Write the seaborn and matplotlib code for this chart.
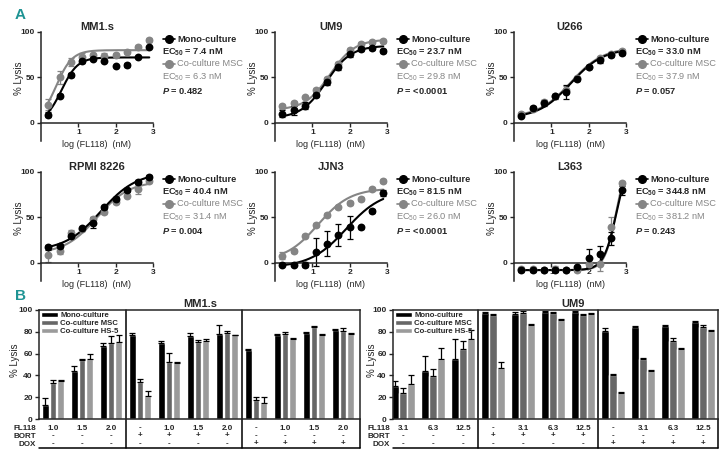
import numpy as np
import pandas as pd
import seaborn as sns
import matplotlib.pyplot as plt
import matplotlib.transforms as mtransforms
from matplotlib.lines import Line2D
from matplotlib.patches import Patch

# ---------------- Panel A data (log FL118 in nM vs % lysis) ----------------
log_fl118 = [0.2, 0.5, 0.8, 1.1, 1.4, 1.7, 2.0, 2.3, 2.6, 2.9]

mm1s_mono = [9, 30, 53, 68, 70, 68, 63, 64, 73, 84]
mm1s_mono_err = [3, 2, 2, 2, 1, 1, 1, 2, 1, 1]
mm1s_msc = [20, 50, 67, 73, 75, 74, 75, 78, 84, 91]
mm1s_msc_err = [6, 7, 4, 4, 2, 3, 2, 2, 2, 2]

um9_mono = [10, 14, 19, 31, 45, 61, 76, 81, 82, 79]
um9_mono_err = [4, 5, 4, 3, 3, 3, 3, 2, 2, 2]
um9_msc = [18, 22, 28, 36, 48, 65, 80, 87, 89, 90]
um9_msc_err = [3, 2, 2, 2, 2, 2, 2, 2, 2, 2]

u266_mono = [8, 16, 22, 29, 34, 48, 61, 69, 75, 77]
u266_mono_err = [2, 3, 3, 3, 8, 2, 2, 3, 2, 2]
u266_msc = [10, 15, 23, 30, 36, 49, 62, 71, 76, 79]
u266_msc_err = [2, 2, 2, 2, 4, 2, 2, 2, 2, 2]

rpmi_mono = [17, 19, 30, 38, 44, 61, 70, 80, 89, 95]
rpmi_mono_err = [3, 2, 2, 2, 6, 2, 2, 2, 2, 2]
rpmi_msc = [9, 13, 33, 37, 48, 56, 67, 74, 81, 90]
rpmi_msc_err = [8, 3, 3, 2, 3, 2, 2, 2, 5, 2]

jjn3_mono = [-2, -2, -2, 12, 21, 31, 39, 39, 57, 77]
jjn3_mono_err = [2, 2, 3, 15, 14, 12, 13, 2, 2, 3]
jjn3_msc = [8, 13, 30, 42, 53, 61, 66, 70, 81, 90]
jjn3_msc_err = [4, 2, 2, 2, 2, 2, 2, 2, 2, 2]

l363_mono = [-8, -8, -8, -8, -8, -5, 5, 10, 27, 80]
l363_mono_err = [2, 2, 2, 2, 2, 2, 10, 9, 7, 5]
l363_msc = [-7, -7, -8, -7, -8, -8, -1, -1, 39, 88]
l363_msc_err = [2, 2, 2, 3, 2, 2, 2, 8, 12, 2]

# fitted curve parameters: bottom, top, logEC50, hill slope
mm1s_fit = [[0, 72, 0.55, 2.0], [0, 80, 0.40, 2.0]]
um9_fit = [[5, 85, 1.37, 1.3], [14, 92, 1.47, 1.3]]
u266_fit = [[5, 82, 1.52, 1.0], [6, 83, 1.52, 1.0]]
rpmi_fit = [[13, 100, 1.60, 0.9], [10, 90, 1.50, 1.0]]
jjn3_fit = [[-5, 80, 1.91, 0.9], [2, 82, 1.15, 1.0]]
l363_fit = [[-8, 120, 2.75, 2.5], [-8, 125, 2.75, 2.7]]

cell_lines_a = ["MM1.s", "UM9", "U266", "RPMI 8226", "JJN3", "L363"]
ec50_mono = ["7.4", "23.7", "33.0", "40.4", "81.5", "344.8"]
ec50_msc = ["6.3", "29.8", "37.9", "31.4", "26.0", "381.2"]
p_values = ["0.482", "<0.0001", "0.057", "0.004", "<0.0001", "0.243"]

# ---------------- Panel B data ----------------
cultures = ["Mono-culture", "Co-culture MSC", "Co-culture HS-5"]
bort_row = ["-", "-", "-", "+", "+", "+", "+", "-", "-", "-", "-"]
dox_row = ["-", "-", "-", "-", "-", "-", "-", "+", "+", "+", "+"]

mm1s_fl118_row = ["1.0", "1.5", "2.0", "-", "1.0", "1.5", "2.0", "-", "1.0", "1.5", "2.0"]
mm1s_b_mono = [13, 44, 67, 77, 70, 76, 78, 63, 77, 79, 82]
mm1s_b_mono_err = [6, 5, 3, 1.5, 1.5, 2.5, 8, 1, 1, 1, 1]
mm1s_b_msc = [33, 54, 70, 34, 52, 71, 79, 17, 78, 84, 81]
mm1s_b_msc_err = [3, 1.5, 6, 3, 9, 1.5, 2, 3, 2, 1.5, 2.5]
mm1s_b_hs5 = [35, 55, 71, 21, 51, 72, 77, 15, 73, 77, 78]
mm1s_b_hs5_err = [1, 5, 6, 5, 1, 1.5, 0.5, 5, 1, 1, 1]

um9_fl118_row = ["3.1", "6.3", "12.5", "-", "3.1", "6.3", "12.5", "-", "3.1", "6.3", "12.5"]
um9_b_mono = [30, 44, 55, 97, 96, 98, 98, 81, 84, 85, 89]
um9_b_mono_err = [5, 14, 18, 1, 2, 1, 1, 2.5, 1.5, 1, 1]
um9_b_msc = [24, 39, 64, 95, 97, 97, 95, 40, 55, 72, 84]
um9_b_msc_err = [4, 7, 8, 1, 2, 1.5, 1, 1, 1, 2, 2]
um9_b_hs5 = [32, 55, 73, 47, 86, 91, 96, 24, 44, 64, 81]
um9_b_hs5_err = [8, 10, 9, 5, 1.5, 1, 1, 1, 1, 1.5, 1]

# ---------------- style ----------------
sns.set_style("ticks")
plt.rcParams["font.family"] = ["Liberation Sans", "DejaVu Sans"]
plt.rcParams["mathtext.fontset"] = "custom"
plt.rcParams["mathtext.rm"] = "Liberation Sans"
plt.rcParams["mathtext.bf"] = "Liberation Sans:bold"
plt.rcParams["mathtext.it"] = "Liberation Sans:italic:bold"
plt.rcParams["axes.linewidth"] = 1.1
plt.rcParams["xtick.major.width"] = 1.0
plt.rcParams["ytick.major.width"] = 1.0
plt.rcParams["xtick.major.size"] = 3
plt.rcParams["ytick.major.size"] = 3

W, H = 728, 459
fig = plt.figure(figsize=(W / 100, H / 100), dpi=100)
teal = "#1f9494"
black = "#000000"
gray = "#858585"


def fx(x):
    return x / W


def fy(y):
    return 1 - y / H


def logistic(x, p):
    bottom, top, logec, hill = p
    return bottom + (top - bottom) / (1 + 10 ** ((logec - x) * hill))


fig.text(fx(20), fy(15), "A", color=teal, fontsize=11, weight="bold", ha="center", va="center")
fig.text(fx(20), fy(296), "B", color=teal, fontsize=11, weight="bold", ha="center", va="center")

# ---------------- Panel A ----------------
a_series = [
    (mm1s_mono, mm1s_mono_err, mm1s_msc, mm1s_msc_err, mm1s_fit),
    (um9_mono, um9_mono_err, um9_msc, um9_msc_err, um9_fit),
    (u266_mono, u266_mono_err, u266_msc, u266_msc_err, u266_fit),
    (rpmi_mono, rpmi_mono_err, rpmi_msc, rpmi_msc_err, rpmi_fit),
    (jjn3_mono, jjn3_mono_err, jjn3_msc, jjn3_msc_err, jjn3_fit),
    (l363_mono, l363_mono_err, l363_msc, l363_msc_err, l363_fit),
]
a_lefts = [41, 275, 514]
a_tops = [32, 172]
a_w, a_h = 112, 109
xs = np.linspace(0.2, 2.9, 150)

for k, (mono, mono_err, msc, msc_err, fit) in enumerate(a_series):
    L = a_lefts[k % 3]
    T = a_tops[k // 3]
    ax = fig.add_axes([fx(L), fy(T + a_h), a_w / W, a_h / H])

    for vals, err, p, col in [(msc, msc_err, fit[1], gray), (mono, mono_err, fit[0], black)]:
        sns.lineplot(x=xs, y=logistic(xs, p), color=col, lw=1.5, ax=ax)
        ax.errorbar(log_fl118, vals, yerr=err, fmt="none", ecolor=col, elinewidth=0.9, capsize=2, capthick=0.9)
        sns.scatterplot(x=log_fl118, y=vals, color=col, s=32, linewidth=0, ax=ax, zorder=3)

    ax.set_xlim(0, 3)
    ax.set_ylim(-20, 100)
    ax.spines["top"].set_visible(False)
    ax.spines["right"].set_visible(False)
    ax.spines["bottom"].set_position(("data", 0))
    ax.set_xticks([1, 2, 3])
    ax.set_yticks([0, 50, 100])
    ax.tick_params(labelsize=6, pad=1.5)
    for lab in ax.get_xticklabels() + ax.get_yticklabels():
        lab.set_fontweight("bold")
    ax.set_xlabel("log (FL118)  (nM)", fontsize=6.5, labelpad=3)
    ax.set_ylabel("% Lysis", fontsize=7)
    ax.yaxis.set_label_coords(-0.15, 0.58)
    ax.set_title(cell_lines_a[k], fontsize=8, weight="bold", pad=1)

    # legend block
    for dy, col in [(7, black), (32, gray)]:
        fig.add_artist(Line2D([fx(L + 122), fx(L + 128), fx(L + 134)], [fy(T + dy)] * 3,
                              transform=fig.transFigure, color=col, lw=1.2,
                              marker="o", markersize=5.5, markevery=[1]))
    fig.text(fx(L + 136), fy(T + 7), "Mono-culture", fontsize=6.7, weight="bold", va="center")
    fig.text(fx(L + 121), fy(T + 20), "EC$_{\\mathbf{50}}$ = " + ec50_mono[k] + " nM",
             fontsize=6.7, weight="bold", va="center")
    fig.text(fx(L + 136), fy(T + 32), "Co-culture MSC", fontsize=6.7, color=gray, va="center")
    fig.text(fx(L + 121), fy(T + 45), "EC$_{50}$ = " + ec50_msc[k] + " nM",
             fontsize=6.7, color=gray, va="center")
    fig.text(fx(L + 121), fy(T + 59), "$P$ = " + p_values[k], fontsize=6.7, weight="bold", va="center")

# ---------------- Panel B ----------------
bar_colors = ["#000000", "#676767", "#9b9b9b"]


def bar_panel(L, R, x0, step, title, title_x, label_x, fl118_row,
              mono, mono_err, msc, msc_err, hs5, hs5_err):
    T, B = 310, 419
    ax = fig.add_axes([fx(L), fy(B), (R - L) / W, (B - T) / H])
    n = len(fl118_row)
    df = pd.DataFrame({
        "pos": list(range(n)) * 3,
        "lysis": mono + msc + hs5,
        "culture": [c for c in cultures for _ in range(n)],
    })
    sns.barplot(data=df, x="pos", y="lysis", hue="culture", hue_order=cultures,
                palette=bar_colors, saturation=1, width=0.8, gap=0.12,
                errorbar=None, legend=False, ax=ax)
    off = 0.8 / 3
    for j, (vals, err) in enumerate([(mono, mono_err), (msc, msc_err), (hs5, hs5_err)]):
        xpos = np.arange(n) + (j - 1) * off
        ax.errorbar(xpos, vals, yerr=[np.zeros(n), err], fmt="none", ecolor="black",
                    elinewidth=0.9, capsize=2, capthick=0.9)

    ax.set_xlim((L - x0) / step, (R - x0) / step)
    ax.set_ylim(0, 100)
    ax.set_yticks(range(0, 101, 20))
    ax.set_xticks([])
    ax.set_xlabel("")
    ax.set_ylabel("% Lysis", fontsize=7)
    ax.yaxis.set_label_coords(-(L - label_x - 4) / (R - L), 0.54)
    ax.tick_params(axis="y", labelsize=6, pad=1.5)
    for lab in ax.get_yticklabels():
        lab.set_fontweight("bold")
    for s in ax.spines.values():
        s.set_visible(True)

    blend = mtransforms.blended_transform_factory(ax.transData, ax.transAxes)
    ybot = (B - 448) / (B - T)
    for d in [2.5, 6.5]:
        ax.plot([d, d], [ybot, 1], transform=blend, color="black", lw=1.1, clip_on=False)
    ax.plot([0, 1], [ybot, ybot], transform=ax.transAxes, color="black", lw=1.1, clip_on=False)
    ax.plot([1, 1], [ybot, 0], transform=ax.transAxes, color="black", lw=1.1, clip_on=False)

    rows = [fl118_row, bort_row, dox_row]
    for r, (name, y) in enumerate(zip(["FL118", "BORT", "DOX"], [428, 436, 444])):
        fig.text(fx(L - 3), fy(y), name, fontsize=5.8, weight="bold", ha="right", va="center")
        for i, v in enumerate(rows[r]):
            ax.text(i, (B - y) / (B - T), v, transform=blend, fontsize=5.8, weight="bold",
                    ha="center", va="center")

    handles = [Patch(facecolor=c, label=l) for c, l in zip(bar_colors, cultures)]
    ax.legend(handles=handles, loc="upper left", frameon=False,
              prop={"weight": "bold", "size": 5.6}, handlelength=2.2, handleheight=0.6,
              labelspacing=0.08, borderaxespad=0.1, handletextpad=0.3, borderpad=0.15)
    fig.text(fx(title_x), fy(304), title, fontsize=8, weight="bold", ha="center", va="center")
    return ax


bar_panel(39, 360, 53, 29, "MM1.s", 200, 16, mm1s_fl118_row,
          mm1s_b_mono, mm1s_b_mono_err, mm1s_b_msc, mm1s_b_msc_err, mm1s_b_hs5, mm1s_b_hs5_err)
bar_panel(393, 718, 403, 30, "UM9", 573, 373, um9_fl118_row,
          um9_b_mono, um9_b_mono_err, um9_b_msc, um9_b_msc_err, um9_b_hs5, um9_b_hs5_err)

fig.savefig("out.png", dpi=100)
